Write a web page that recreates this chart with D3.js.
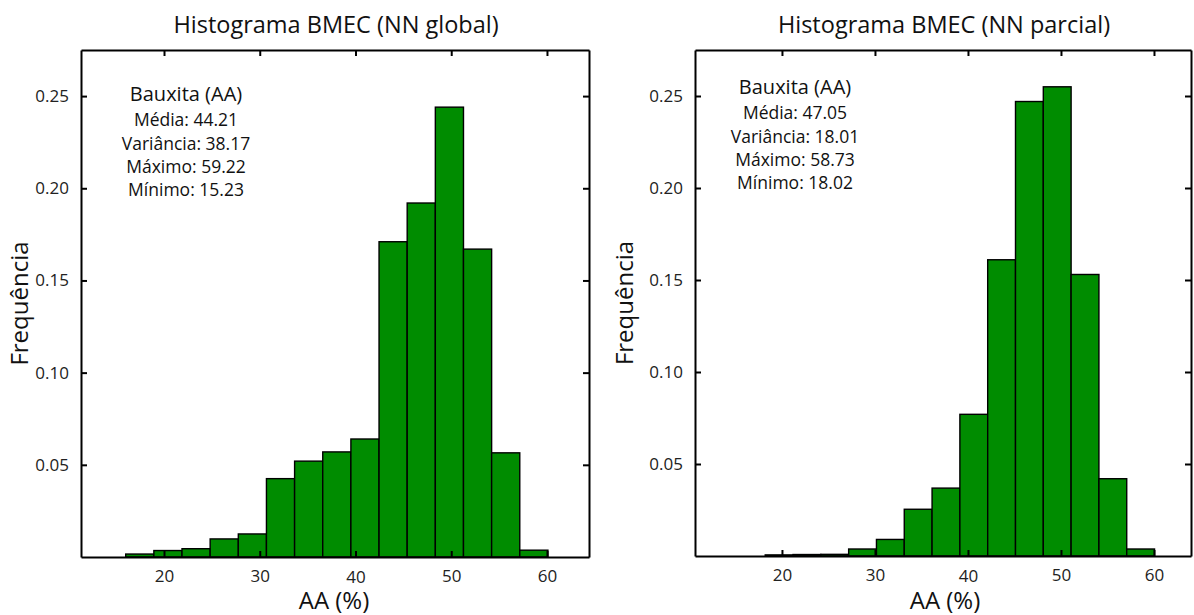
<!DOCTYPE html>
<html>
<head>
<meta charset="utf-8">
<script src="https://cdn.jsdelivr.net/npm/d3@7"></script>
<style>
  html, body { margin: 0; padding: 0; background: #fff; }
  svg { display: block; }
</style>
</head>
<body>
<svg id="chart" width="1194" height="615"></svg>
<script>
/* ===== Données ===== */
const xTicks = [20, 30, 40, 50, 60];
const yTicks = [0.05, 0.10, 0.15, 0.20, 0.25];

// NN global : bornes des classes et fréquences
const globalEdges = [16.00, 18.94, 21.88, 24.82, 27.76, 30.70, 33.64, 36.58, 39.52, 42.46, 45.40, 48.34, 51.28, 54.22, 57.16, 60.10];
const globalFreq  = [0.0016, 0.0035, 0.0045, 0.0098, 0.0125, 0.0425, 0.052, 0.057, 0.064, 0.171, 0.192, 0.244, 0.167, 0.0565, 0.0037];
const globalStats = ["Bauxita (AA)", "Média: 44.21", "Variância: 38.17", "Máximo: 59.22", "Mínimo: 15.23"];

// NN parcial
const partialEdges = [18.20, 21.19, 24.18, 27.17, 30.16, 33.15, 36.14, 39.13, 42.12, 45.11, 48.10, 51.09, 54.08, 57.07, 60.06];
const partialFreq  = [0.0006, 0.0008, 0.0009, 0.0038, 0.0090, 0.0254, 0.0369, 0.077, 0.161, 0.247, 0.255, 0.153, 0.042, 0.0038];
const partialStats = ["Bauxita (AA)", "Média: 47.05", "Variância: 18.01", "Máximo: 58.73", "Mínimo: 18.02"];

const titles = ["Histograma BMEC (NN global)", "Histograma BMEC (NN parcial)"];

/* ===== Mise en page ===== */
const FONT = "'Open Sans', 'Noto Sans', sans-serif";
const cBar = "#008c00";
const svg = d3.select("#chart");

const panels = [
  { title: titles[0], edges: globalEdges, freq: globalFreq, stats: globalStats,
    left: 81, right: 589, top: 50, bottom: 557, xDomain: [11.33, 64.39],
    titleX: 336, labelX: 334, statsX: 186, statsY: 101, yLabelX: 28 },
  { title: titles[1], edges: partialEdges, freq: partialFreq, stats: partialStats,
    left: 695, right: 1191, top: 50, bottom: 556, xDomain: [10.65, 63.98],
    titleX: 944, labelX: 945, statsX: 795, statsY: 94, yLabelX: 633 }
];

panels.forEach(drawPanel);

function drawPanel(p){
  const x = d3.scaleLinear().domain(p.xDomain).range([p.left, p.right]);
  const y = d3.scaleLinear().domain([0, 0.275]).range([p.bottom, p.top]);
  const g = svg.append("g");

  const bins = p.freq.map((f, i) => ({ x0: p.edges[i], x1: p.edges[i + 1], f }));

  g.selectAll("rect.bar").data(bins).join("rect")
    .attr("class", "bar")
    .attr("x", d => x(d.x0)).attr("y", d => y(d.f))
    .attr("width", d => x(d.x1) - x(d.x0)).attr("height", d => y(0) - y(d.f))
    .attr("fill", cBar).attr("stroke", "#000").attr("stroke-width", 1.4);

  // axes (ticks vers l'intérieur sur les 4 côtés)
  const styleAxis = sel => {
    sel.attr("font-family", FONT).attr("font-size", 17);
    sel.select(".domain").attr("stroke", "#000").attr("stroke-width", 2);
    sel.selectAll(".tick line").attr("stroke", "#000").attr("stroke-width", 2);
    sel.selectAll(".tick text").attr("fill", "#222");
  };

  g.append("g").attr("transform", `translate(0,${p.bottom})`)
    .call(d3.axisBottom(x).tickValues(xTicks).tickSizeInner(-6).tickSizeOuter(0).tickPadding(13))
    .call(styleAxis)
    .selectAll(".tick text").attr("dy", d => d === 40 ? "0.78em" : "0.71em");

  g.append("g").attr("transform", `translate(0,${p.top})`)
    .call(d3.axisTop(x).tickValues(xTicks).tickSizeInner(-6).tickSizeOuter(0).tickFormat(""))
    .call(styleAxis);

  g.append("g").attr("transform", `translate(${p.left},0)`)
    .call(d3.axisLeft(y).tickValues(yTicks).tickSizeInner(-6).tickSizeOuter(0).tickPadding(12).tickFormat(d3.format(".2f")))
    .call(styleAxis);

  g.append("g").attr("transform", `translate(${p.right},0)`)
    .call(d3.axisRight(y).tickValues(yTicks).tickSizeInner(-6).tickSizeOuter(0).tickFormat(""))
    .call(styleAxis);

  // titre + libellés
  g.append("text").attr("x", p.titleX).attr("y", 33)
    .attr("text-anchor", "middle").attr("font-family", FONT).attr("font-size", 23.5).attr("fill", "#111")
    .text(p.title);

  g.append("text").attr("x", p.labelX).attr("y", 609)
    .attr("text-anchor", "middle").attr("font-family", FONT).attr("font-size", 24).attr("fill", "#111")
    .text("AA (%)");

  g.append("text")
    .attr("transform", `translate(${p.yLabelX},${(p.top + p.bottom) / 2}) rotate(-90)`)
    .attr("text-anchor", "middle").attr("font-family", FONT).attr("font-size", 24).attr("fill", "#111")
    .text("Frequência");

  // bloc statistiques
  const st = g.append("g").attr("font-family", FONT).attr("fill", "#111").attr("text-anchor", "middle");
  p.stats.forEach((s, i) => {
    st.append("text")
      .attr("x", p.statsX).attr("y", p.statsY + (i === 0 ? 0 : 2 + i * 23.3))
      .attr("font-size", i === 0 ? 20 : 17.5)
      .text(s);
  });
}
</script>
</body>
</html>
